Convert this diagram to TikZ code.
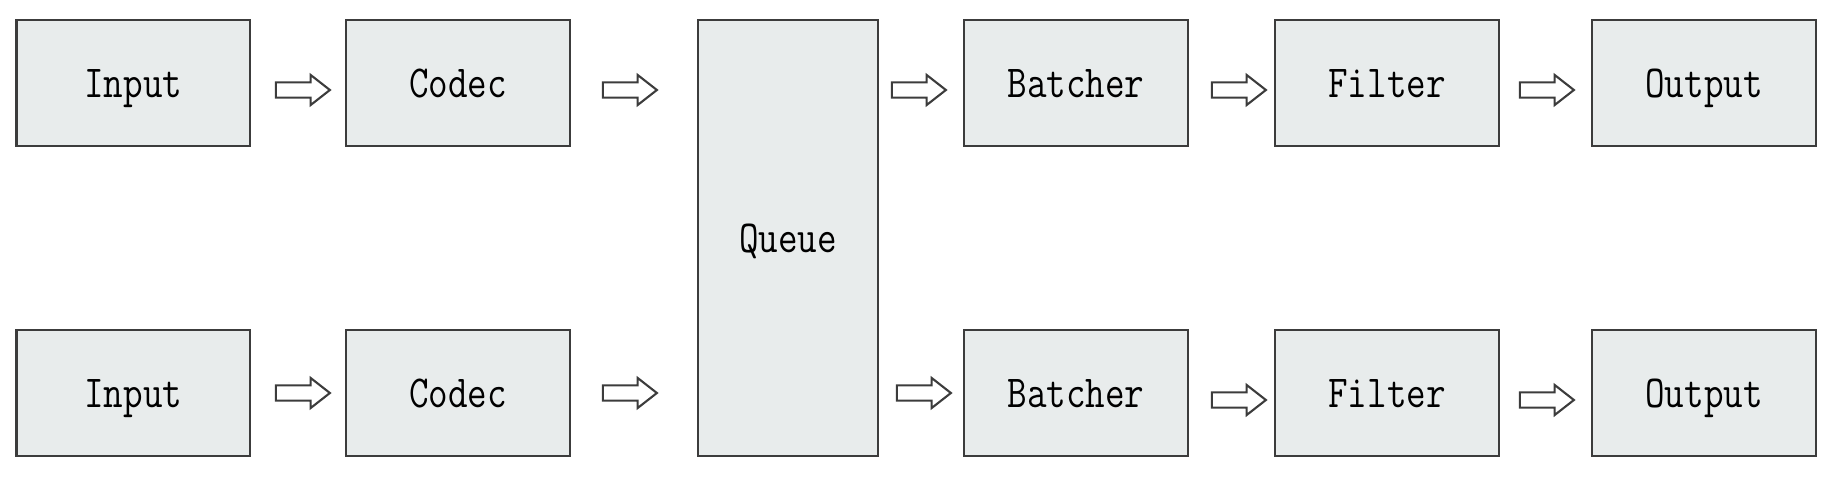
\documentclass[tikz,border=0pt]{standalone}
\usepackage{graphicx}
\usetikzlibrary{shapes.arrows}
\definecolor{boxfill}{HTML}{E8ECEC}
\definecolor{boxline}{HTML}{3C3C3C}
\newcommand{\boxtext}[1]{\scalebox{0.83}[1]{#1}}
\tikzset{
  blk/.style={draw=boxline, fill=boxfill, line width=1.35pt, rectangle,
    minimum width=112pt, minimum height=63pt, inner sep=0pt,
    text height=16pt, text depth=1.5pt,
    font=\fontsize{22.9}{27}\selectfont\ttfamily},
  flow/.style={single arrow, draw=boxline, fill=white, line width=1.05pt,
    minimum height=27pt, inner xsep=0pt, inner ysep=3.3pt,
    single arrow head extend=3.7pt, single arrow tip angle=76,
    single arrow head indent=0pt}
}
\begin{document}
\begin{tikzpicture}[x=0.5pt,y=-0.5pt]
\useasboundingbox (0,0) rectangle (1848,482);
% row 1
\node[blk, minimum width=116.75pt] (in1) at (133.25,83) {\boxtext{Input}};
\node[blk] (cd1) at (458,83) {\boxtext{Codec}};
\node[blk, minimum width=90pt, minimum height=218pt] (q) at (788,238) {\boxtext{Queue}};
\node[blk] (bt1) at (1076,83) {\boxtext{Batcher}};
\node[blk] (fl1) at (1387,83) {\boxtext{Filter}};
\node[blk] (out1) at (1704,83) {\boxtext{Output}};
% row 2
\node[blk, minimum width=116.75pt] (in2) at (133.25,393) {\boxtext{Input}};
\node[blk] (cd2) at (458,393) {\boxtext{Codec}};
\node[blk] (bt2) at (1076,393) {\boxtext{Batcher}};
\node[blk] (fl2) at (1387,393) {\boxtext{Filter}};
\node[blk] (out2) at (1704,393) {\boxtext{Output}};
% arrows row 1
\node[flow] (a11) at (298,90) {};
\node[flow] (a12) at (625,90) {};
\node[flow] (a13) at (914,90) {};
\node[flow] (a14) at (1234,90) {};
\node[flow] (a15) at (1542,90) {};
% arrows row 2
\node[flow] (a21) at (298,393) {};
\node[flow] (a22) at (625,393) {};
\node[flow] (a23) at (919,393) {};
\node[flow] (a24) at (1234,400) {};
\node[flow] (a25) at (1542,400) {};
\end{tikzpicture}
\end{document}
